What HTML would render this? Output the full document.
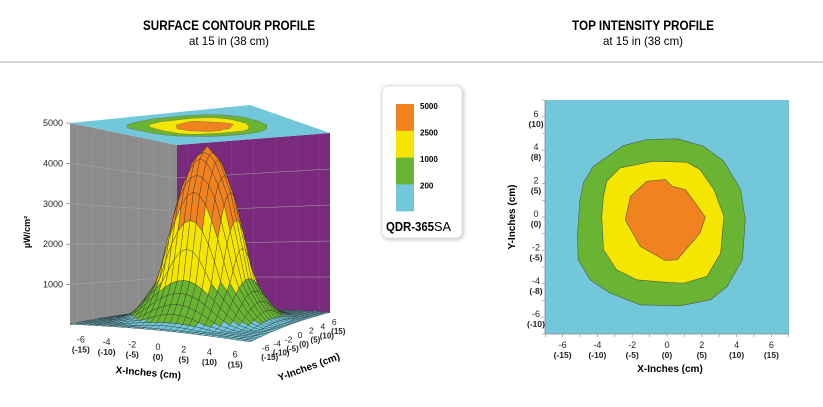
<!DOCTYPE html>
<html><head><meta charset="utf-8"><style>
body{margin:0;background:#fff;width:823px;height:407px;overflow:hidden;font-family:"Liberation Sans",sans-serif}
svg{position:absolute;left:0;top:0}
</style></head><body>
<svg id="s" width="823" height="407" viewBox="0 0 823 407" xmlns="http://www.w3.org/2000/svg">
<rect width="823" height="407" fill="#fff"/>
<g font-weight="bold" font-size="13.5">
<text x="229" y="30" text-anchor="middle" textLength="172" lengthAdjust="spacingAndGlyphs">SURFACE CONTOUR PROFILE</text>
</g>
<text x="229" y="45" text-anchor="middle" font-size="12" textLength="80" lengthAdjust="spacingAndGlyphs">at 15 in (38 cm)</text>
<text x="643" y="30" text-anchor="middle" font-weight="bold" font-size="13.5" textLength="142" lengthAdjust="spacingAndGlyphs">TOP INTENSITY PROFILE</text>
<text x="643" y="45" text-anchor="middle" font-size="12" textLength="80" lengthAdjust="spacingAndGlyphs">at 15 in (38 cm)</text>
<rect x="0" y="61" width="823" height="2" fill="#d6d6d6"/>
<g id="left"></g>
<g id="right"></g>
<g>
<rect x="382" y="86" width="80" height="152" rx="6" fill="#fff" stroke="#e2e2e2" style="filter:drop-shadow(1px 1px 2px rgba(0,0,0,0.25))"/>
<g id="legend"></g>
<text x="386" y="231" font-size="12.5" font-weight="bold" textLength="48" lengthAdjust="spacingAndGlyphs">QDR-365</text><text x="434" y="231" font-size="12.5" textLength="17" lengthAdjust="spacingAndGlyphs">SA</text>
</g>
</svg>
<script>
const NS="http://www.w3.org/2000/svg";
// ---- data ----
const levels=[200,1000,2500,5000];
const levelColors=["#72c8da","#69b432","#f4e600","#f08220"];
const radialR=[0,1,2,3,3.5,4,4.8,5.5,6.5,10];
const radialZ=[4500,4150,3300,1900,1150,850,450,200,90,20];
const xTicks=[-6,-4,-2,0,2,4,6];
const xTickCm=["(-15)","(-10)","(-5)","(0)","(5)","(10)","(15)"];
const yTicks=[-6,-4,-2,0,2,4,6];
const yTickCm=["(-10)","(-8)","(-5)","(0)","(5)","(8)","(10)"];
const yTickCmLeft=["(-15)","(-10)","(-5)","(0)","(5)","(10)","(15)"];
const zTicks=[1000,2000,3000,4000,5000];
const contourGreen=[[-4.8,2.04],[-4.23,3.04],[-2.5,4.28],[-1.15,4.64],[0.58,4.68],[2.1,4.24],[3.27,3.34],[4.23,1.64],[4.5,-0.16],[4.33,-2.56],[3.46,-4.16],[2.5,-4.96],[0.77,-5.32],[-1.54,-5.26],[-3.27,-4.56],[-4.42,-3.76],[-5.1,-2.56],[-5.15,-1.16],[-5.0,1.04]];
const contourYellow=[[-3.46,2.14],[-2.7,2.94],[-0.77,3.34],[1.15,3.28],[1.9,2.84],[2.7,1.64],[3.27,0.04],[3.08,-2.16],[2.3,-3.56],[0.96,-3.96],[0,-3.92],[-1.73,-3.76],[-2.9,-3.16],[-3.65,-1.96],[-3.75,0.04],[-3.65,1.24]];
const contourOrange=[[-1.15,2.14],[-0.1,2.24],[0.29,1.84],[1.06,1.64],[2.2,0],[1.9,-0.96],[0.58,-2.56],[-0.1,-2.6],[-1.54,-1.76],[-2.4,-0.16],[-2.1,1.24]];

function el(tag,attrs,parent,txt){const e=document.createElementNS(NS,tag);for(const k in attrs)e.setAttribute(k,attrs[k]);if(txt!==undefined)e.textContent=txt;parent.appendChild(e);return e;}

// legend
const lg=document.getElementById('legend');
const legLabels=["5000","2500","1000","200"];
for(let i=0;i<4;i++){
  const r=el('rect',{x:396,y:104+i*26.8,width:18,height:27,fill:levelColors[3-i]},lg);
  
  
  const t=el('text',{x:420,y:109+i*26.5,'font-size':8,'font-weight':'bold'},lg,legLabels[i]);
  
  
}

// ---- right chart ----
const R=document.getElementById('right');
const px=x=>667+x*17.4, py=y=>217-y*16.7;
el('rect',{x:545,y:100,width:244,height:234,fill:levelColors[0]},R);
function poly(pts,fill,parent,f){return el('polygon',{points:pts.map(p=>f(p).join(',')).join(' '),fill:fill,stroke:'#555','stroke-width':0.6,'stroke-linejoin':'round'},parent);}
const rp=p=>[px(p[0]),py(p[1])];
let g1=poly(contourGreen,levelColors[1],R,rp);
let g2=poly(contourYellow,levelColors[2],R,rp);
let g3=poly(contourOrange,levelColors[3],R,rp);
el('line',{x1:545,y1:100,x2:545,y2:334,stroke:'#888','stroke-width':0.8},R);
el('line',{x1:545,y1:334,x2:789,y2:334,stroke:'#888','stroke-width':0.8},R);
for(let v=-7;v<=7;v++){el('line',{x1:px(v),y1:334,x2:px(v),y2:337,stroke:'#888','stroke-width':0.6},R);el('line',{x1:542,y1:py(v),x2:545,y2:py(v),stroke:'#888','stroke-width':0.6},R);}
xTicks.forEach((v,i)=>{const t=el('text',{x:px(v),y:348,'font-size':9,'text-anchor':'middle',fill:'#222'},R,String(v));
 const c=el('text',{x:px(v),y:358,'font-size':8.5,'text-anchor':'middle','font-weight':'bold',fill:'#222'},R,xTickCm[i]);});
yTicks.forEach((v,i)=>{const t=el('text',{x:536,y:py(v)+0,'font-size':9,'text-anchor':'middle',fill:'#222'},R,String(v));
 const c=el('text',{x:536,y:py(v)+10,'font-size':8.5,'text-anchor':'middle','font-weight':'bold',fill:'#222'},R,yTickCm[i]);});
let xt=el('text',{x:670,y:372,'font-size':10,'font-weight':'bold','text-anchor':'middle'},R,'X-Inches (cm)');
let yt=el('text',{x:0,y:0,'font-size':10,'font-weight':'bold','text-anchor':'middle',transform:'translate(515,217) rotate(-90)'},R,'Y-Inches (cm)');

// ---- left 3D chart ----
const L=document.getElementById('left');
const C={a:[70,325],b:[250,343],c:[330,313],d:[177,310]}; // (x-7,y-7),(x7,y-7),(x7,y7),(x-7,y7)
const ZS={a:202,b:238,c:180,d:165};
function proj(x,y,z){const u=(x+7)/14,v=(y+7)/14;
 const bx=(1-u)*(1-v)*C.a[0]+u*(1-v)*C.b[0]+u*v*C.c[0]+(1-u)*v*C.d[0];
 const by=(1-u)*(1-v)*C.a[1]+u*(1-v)*C.b[1]+u*v*C.c[1]+(1-u)*v*C.d[1];
 const zs=(1-u)*(1-v)*ZS.a+u*(1-v)*ZS.b+u*v*ZS.c+(1-u)*v*ZS.d;
 return [bx,by-z/5000*zs];}
function zAt(x,y){const r=Math.hypot(x,y);for(let i=0;i<radialR.length-1;i++){if(r<=radialR[i+1]){const t=(r-radialR[i])/(radialR[i+1]-radialR[i]);return radialZ[i]+t*(radialZ[i+1]-radialZ[i]);}}return radialZ[radialZ.length-1];}
const P=(x,y,z)=>proj(x,y,z).join(',');
// walls
let gw=el('polygon',{points:[P(-7,-7,5000),P(-7,7,5000),P(-7,7,0),P(-7,-7,0)].join(' '),fill:'#8c8c8c'},L);
let pw=el('polygon',{points:[P(-7,7,5000),P(7,7,5000),P(7,7,0),P(-7,7,0)].join(' '),fill:'#7a2a7c'},L);
for(let k=-6;k<=6;k+=2){el('line',{x1:proj(-7,k,0)[0],y1:proj(-7,k,0)[1],x2:proj(-7,k,5000)[0],y2:proj(-7,k,5000)[1],stroke:'#a0a0a0','stroke-width':0.5},L);
 el('line',{x1:proj(k,7,0)[0],y1:proj(k,7,0)[1],x2:proj(k,7,5000)[0],y2:proj(k,7,5000)[1],stroke:'#8e4590','stroke-width':0.5},L);}
zTicks.forEach(z=>{const a=proj(-7,-7,z),b=proj(-7,7,z),c=proj(7,7,z);
 el('polyline',{points:[a,b,c].map(p=>p.join(',')).join(' '),fill:'none',stroke:z==5000?'none':'#a8a8a8','stroke-width':0.5},L);
 el('line',{x1:a[0]-4,y1:a[1],x2:a[0],y2:a[1],stroke:'#555','stroke-width':0.6},L);
 const t=el('text',{x:a[0]-7,y:a[1]+3,'font-size':9,'text-anchor':'end',fill:'#222'},L,String(z));});
// top face
let tf=el('polygon',{points:[P(-7,-7,5000),P(7,-7,5000),P(7,7,5000),P(-7,7,5000)].join(' '),fill:levelColors[0]},L);
[[contourGreen,1],[contourYellow,2],[contourOrange,3]].forEach(([c,i])=>{const p=el('polygon',{points:c.map(q=>P(q[0],q[1],5000)).join(' '),fill:levelColors[i],stroke:'#666','stroke-width':0.4},L);});
// surface
const step=0.5,cells=[];
for(let x=-7;x<7;x+=step)for(let y=-7;y<7;y+=step)cells.push([x,y]);
cells.sort((p,q)=>(q[1]-q[0])-(p[1]-p[0]));
const surf=el('g',{'stroke':'#2a2a2a','stroke-width':0.35,'stroke-linejoin':'round'},L);

function colorFor(z){for(let i=0;i<levels.length;i++)if(z<levels[i])return levelColors[i];return levelColors[3];}
cells.forEach(([x,y])=>{const pts=[[x,y],[x+step,y],[x+step,y+step],[x,y+step]];
 const zs=pts.map(p=>zAt(p[0],p[1]));const avg=zs.reduce((a,b)=>a+b)/4;
 el('polygon',{points:pts.map((p,i)=>P(p[0],p[1],zs[i])).join(' '),fill:colorFor(avg)},surf);});
// axis labels
xTicks.forEach((v,i)=>{const p=proj(v,-7,0);const t=el('text',{x:p[0]-2,y:p[1]+16,'font-size':9,'text-anchor':'middle',fill:'#222'},L,String(v));
 const c=el('text',{x:p[0]-2,y:p[1]+26,'font-size':8.5,'text-anchor':'middle','font-weight':'bold',fill:'#222'},L,xTickCm[i]);});
yTicks.forEach((v,i)=>{const p=proj(7,v,0);const t=el('text',{x:p[0]+10,y:p[1]+10,'font-size':8.5,'text-anchor':'middle',fill:'#222'},L,String(v));
 const c=el('text',{x:p[0]+14,y:p[1]+19,'font-size':8,'text-anchor':'middle','font-weight':'bold',fill:'#222'},L,yTickCmLeft[i]);});
let lx=el('text',{x:0,y:0,'font-size':10,'font-weight':'bold','text-anchor':'middle',transform:'translate(148,376) rotate(5)'},L,'X-Inches (cm)');
let ly=el('text',{x:0,y:0,'font-size':10,'font-weight':'bold','text-anchor':'middle',transform:'translate(310,370) rotate(-20)'},L,'Y-Inches (cm)');
let lz=el('text',{x:0,y:0,'font-size':9,'font-weight':'bold','text-anchor':'middle',transform:'translate(30,232) rotate(-90)'},L,'µW/cm²');
</script>
</body></html>
